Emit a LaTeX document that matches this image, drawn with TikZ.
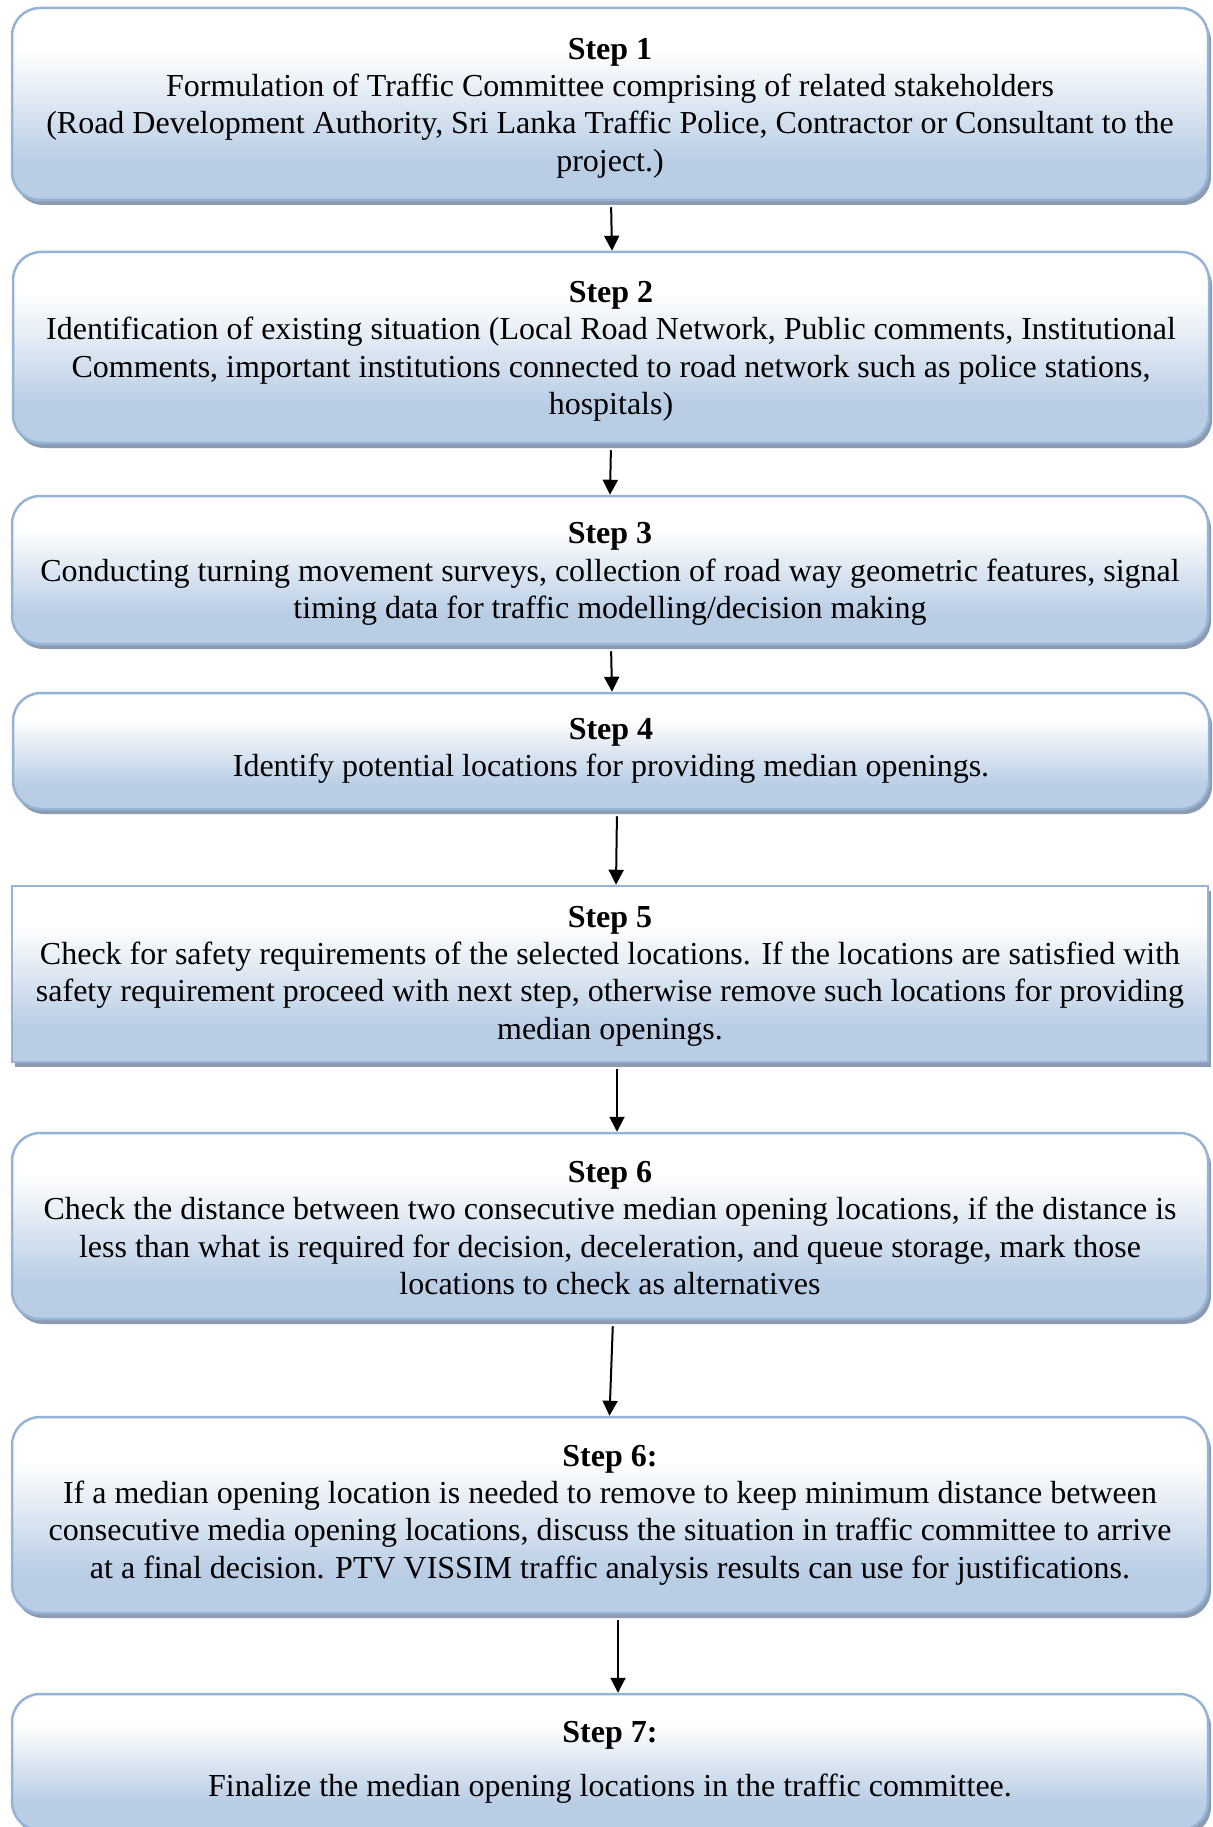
\documentclass[tikz,border=0pt]{standalone}
\usepackage{fontspec}
\setmainfont{Liberation Serif}
\usetikzlibrary{arrows.meta,shadows}
\definecolor{boxblue}{HTML}{B9CDE5}
\definecolor{boxborder}{HTML}{95B3D7}
\definecolor{shadowcol}{HTML}{8C9BB0}
\pgfdeclareverticalshading{wordgrad}{100bp}{color(0bp)=(boxblue); color(25bp)=(boxblue); color(35bp)=(boxblue); color(64bp)=(white); color(75bp)=(white); color(100bp)=(white)}
\newcommand{\lowerby}[1]{\rule{0pt}{#1}}
\tikzset{
  stepbox/.style={draw=boxborder, line width=2.5pt, rounded corners=28pt,
    shade, shading=wordgrad, minimum width=1196pt, inner sep=0pt, align=center,
    font=\fontsize{32}{37.3}\selectfont,
    drop shadow={shadow xshift=3pt, shadow yshift=-5pt, fill=shadowcol, opacity=1}},
  flowarrow/.style={line width=2pt, black, -{Triangle[length=15pt,width=15pt]}, shorten <=6pt}
}
\begin{document}
\begin{tikzpicture}[x=1pt,y=-1pt]
\useasboundingbox (0,0) rectangle (1212,1827);
\node[stepbox, minimum height=192pt] (b1) at (610,104) {\lowerby{29pt}\textbf{Step 1}\\Formulation of Traffic Committee comprising of related stakeholders\\(Road Development Authority, Sri Lanka Traffic Police, Contractor or Consultant to the\\project.)};
\node[stepbox, minimum height=191pt] (b2) at (611,347.5) {\lowerby{29pt}\textbf{Step 2}\\Identification of existing situation (Local Road Network, Public comments, Institutional\\Comments, important institutions connected to road network such as police stations,\\hospitals)};
\node[stepbox, minimum height=148pt] (b3) at (610,570) {\lowerby{29pt}\textbf{Step 3}\\Conducting turning movement surveys, collection of road way geometric features, signal\\timing data for traffic modelling/decision making};
\node[stepbox, minimum height=116pt] (b4) at (611,751) {\textbf{Step 4}\\Identify potential locations for providing median openings.};
\node[stepbox, sharp corners, minimum height=176pt] (b5) at (610,974) {\lowerby{25pt}\textbf{Step 5}\\Check for safety requirements of the selected locations. If the locations are satisfied with\\safety requirement proceed with next step, otherwise remove such locations for providing\\median openings.};
\node[stepbox, minimum height=186pt] (b6) at (610,1226) {\lowerby{25pt}\textbf{Step 6}\\Check the distance between two consecutive median opening locations, if the distance is\\less than what is required for decision, deceleration, and queue storage, mark those\\locations to check as alternatives};
\node[stepbox, minimum height=196pt] (b7) at (610,1515) {\textbf{Step 6:}\\If a median opening location is needed to remove to keep minimum distance between\\consecutive media opening locations, discuss the situation in traffic committee to arrive\\at a final decision. PTV VISSIM traffic analysis results can use for justifications.};
\node[stepbox, minimum height=136pt] (b8) at (610,1762) {\textbf{Step 7:}\\[16.7pt]Finalize the median opening locations in the traffic committee.};
\draw[flowarrow] ([xshift=1pt]b1.south) -- ([xshift=1pt]b2.north);
\draw[flowarrow] ([xshift=0pt]b2.south) -- ([xshift=0pt]b3.north);
\draw[flowarrow] ([xshift=1pt]b3.south) -- ([xshift=1pt]b4.north);
\draw[flowarrow] ([xshift=6pt]b4.south) -- ([xshift=6pt]b5.north);
\draw[flowarrow] ([xshift=7pt]b5.south) -- ([xshift=7pt]b6.north);
\draw[flowarrow] ([xshift=3pt]b6.south) -- ([xshift=-0.5pt]b7.north);
\draw[flowarrow] ([xshift=8pt]b7.south) -- ([xshift=8pt]b8.north);
\end{tikzpicture}
\end{document}
